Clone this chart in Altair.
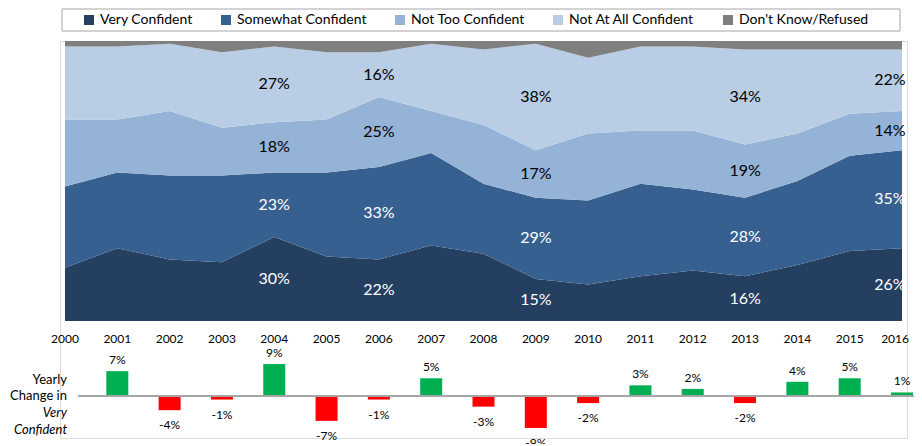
import altair as alt
import pandas as pd

years = list(range(2000, 2017))
categories = ["Very Confident", "Somewhat Confident", "Not Too Confident",
              "Not At All Confident", "Don't Know/Refused"]
very = [19, 26, 22, 21, 30, 23, 22, 27, 24, 15, 13, 16, 18, 16, 20, 25, 26]
somewhat = [29, 27, 30, 31, 23, 30, 33, 33, 25, 29, 30, 33, 29, 28, 30, 34, 35]
not_too = [24, 19, 23, 17, 18, 19, 25, 15, 21, 17, 24, 19, 21, 19, 17, 15, 14]
not_at_all = [26, 26, 24, 27, 27, 24, 16, 24, 27, 38, 27, 30, 30, 34, 30, 23, 22]
dont_know = [2, 2, 1, 4, 2, 4, 4, 1, 3, 1, 6, 2, 2, 3, 3, 3, 3]
change_years = list(range(2001, 2017))
change = [7, -4, -1, 9, -7, -1, 5, -3, -9, -2, 3, 2, -2, 4, 5, 1]
label_years = [2004, 2006, 2009, 2013, 2016]
colors = ["#253F60", "#35608F", "#95B3D7", "#B9CDE5", "#7F7F7F"]

series = [very, somewhat, not_too, not_at_all, dont_know]
rows = []
for i, y in enumerate(years):
    base = 0
    for k, cat in enumerate(categories):
        v = series[k][i]
        rows.append({"year": y, "cat": cat, "order": k, "value": v,
                     "y0": base, "y1": base + v, "mid": base + v / 2,
                     "label": f"{v}%"})
        base += v
df = pd.DataFrame(rows)
lab = df[df["year"].isin(label_years) & (df["order"] < 4)].copy()
lab_main = lab[lab["year"] != years[-1]]
lab_last = lab[lab["year"] == years[-1]]

cdf = pd.DataFrame({"year": change_years, "change": change,
                    "label": [f"{c}%" for c in change]})
ydf = pd.DataFrame({"year": years[:-1]})
ydf_last = pd.DataFrame({"year": years[-1:]})

FONT = "Lato"
W, H = 847, 397
xs = alt.Scale(domain=[2000, 2016], nice=False, zero=False)
ya = alt.Scale(domain=[-41.79, 100], nice=False, zero=False)
yb = alt.Scale(domain=[-11.83, 100], nice=False, zero=False)
X = alt.X("year:Q", scale=xs, axis=None)

one = alt.Data(values=[{}])
legend_box = alt.Chart(one).mark_rect(fillOpacity=0, stroke="#A6A6A6", strokeWidth=1).encode(
    x=alt.value(2), x2=alt.value(840), y=alt.value(-32), y2=alt.value(-10))

area = alt.Chart(df).mark_area(opacity=1).encode(
    x=X,
    y=alt.Y("y0:Q", scale=ya, axis=None),
    y2="y1:Q",
    color=alt.Color("cat:N", scale=alt.Scale(domain=categories, range=colors),
                    legend=alt.Legend(title=None, orient="none", legendX=17, legendY=-33,
                                      direction="horizontal", columns=5,
                                      symbolType="square", symbolSize=100,
                                      symbolStrokeWidth=0,
                                      labelFont=FONT, labelFontSize=14, labelColor="#000",
                                      labelOffset=4, columnPadding=26, padding=5)),
    order="order:Q",
)

txtcolor = alt.condition("datum.order < 2", alt.value("white"), alt.value("black"))
atext = alt.Chart(lab_main).mark_text(font=FONT, fontSize=16, baseline="middle").encode(
    x=X, y=alt.Y("mid:Q", scale=ya, axis=None), text="label:N", color=txtcolor)
atext2 = alt.Chart(lab_last).mark_text(font=FONT, fontSize=16, baseline="middle", dx=-12).encode(
    x=X, y=alt.Y("mid:Q", scale=ya, axis=None), text="label:N", color=txtcolor)

yeartext = alt.Chart(ydf).mark_text(font=FONT, fontSize=12, color="#000", baseline="middle").encode(
    x=X, y=alt.value(298), text="year:N")
yeartext2 = alt.Chart(ydf_last).mark_text(font=FONT, fontSize=12, color="#000", baseline="middle",
                                          align="right", dx=7).encode(
    x=X, y=alt.value(298), text="year:N")

bars = alt.Chart(cdf).mark_bar(size=22).encode(
    x=X,
    y=alt.Y("change:Q", scale=yb, axis=None),
    y2=alt.datum(0),
    color=alt.condition("datum.change > 0", alt.value("#00B050"), alt.value("#FF0000")),
)
pos = alt.Chart(cdf).transform_filter("datum.change > 0").mark_text(
    font=FONT, fontSize=12, color="#000", baseline="middle", dy=-11).encode(
    x=X, y=alt.Y("change:Q", scale=yb, axis=None), text="label:N")
neg = alt.Chart(cdf).transform_filter("datum.change < 0").mark_text(
    font=FONT, fontSize=12, color="#000", baseline="middle", dy=15).encode(
    x=X, y=alt.Y("change:Q", scale=yb, axis=None), text="label:N")
zero = alt.Chart(cdf).mark_rule(color="#A6A6A6", strokeWidth=1.5).encode(
    x=alt.value(18), x2=alt.value(854),
    y=alt.Y(datum=0, scale=yb, axis=None))

side = [("Yearly", 339, "normal"), ("Change in", 355, "normal"),
        ("Very", 372, "italic"), ("Confident", 389, "italic")]
side_layers = [
    alt.Chart(one).mark_text(text=t, font=FONT, fontSize=13, fontStyle=s, color="#000",
                             align="right", baseline="middle").encode(
        x=alt.value(7), y=alt.value(yy))
    for t, yy, s in side
]

chart = alt.layer(area, legend_box, atext, atext2, yeartext, yeartext2, bars, pos, neg, zero,
                  *side_layers).resolve_scale(
    y="independent"
).properties(
    width=W, height=H,
    autosize=alt.AutoSizeParams(type="none"),
    padding={"left": 52, "top": 33, "right": 7, "bottom": 6},
).configure_view(stroke=None).configure(background="white")

chart.save("out.html", embed_options={"renderer": "svg", "actions": False})
